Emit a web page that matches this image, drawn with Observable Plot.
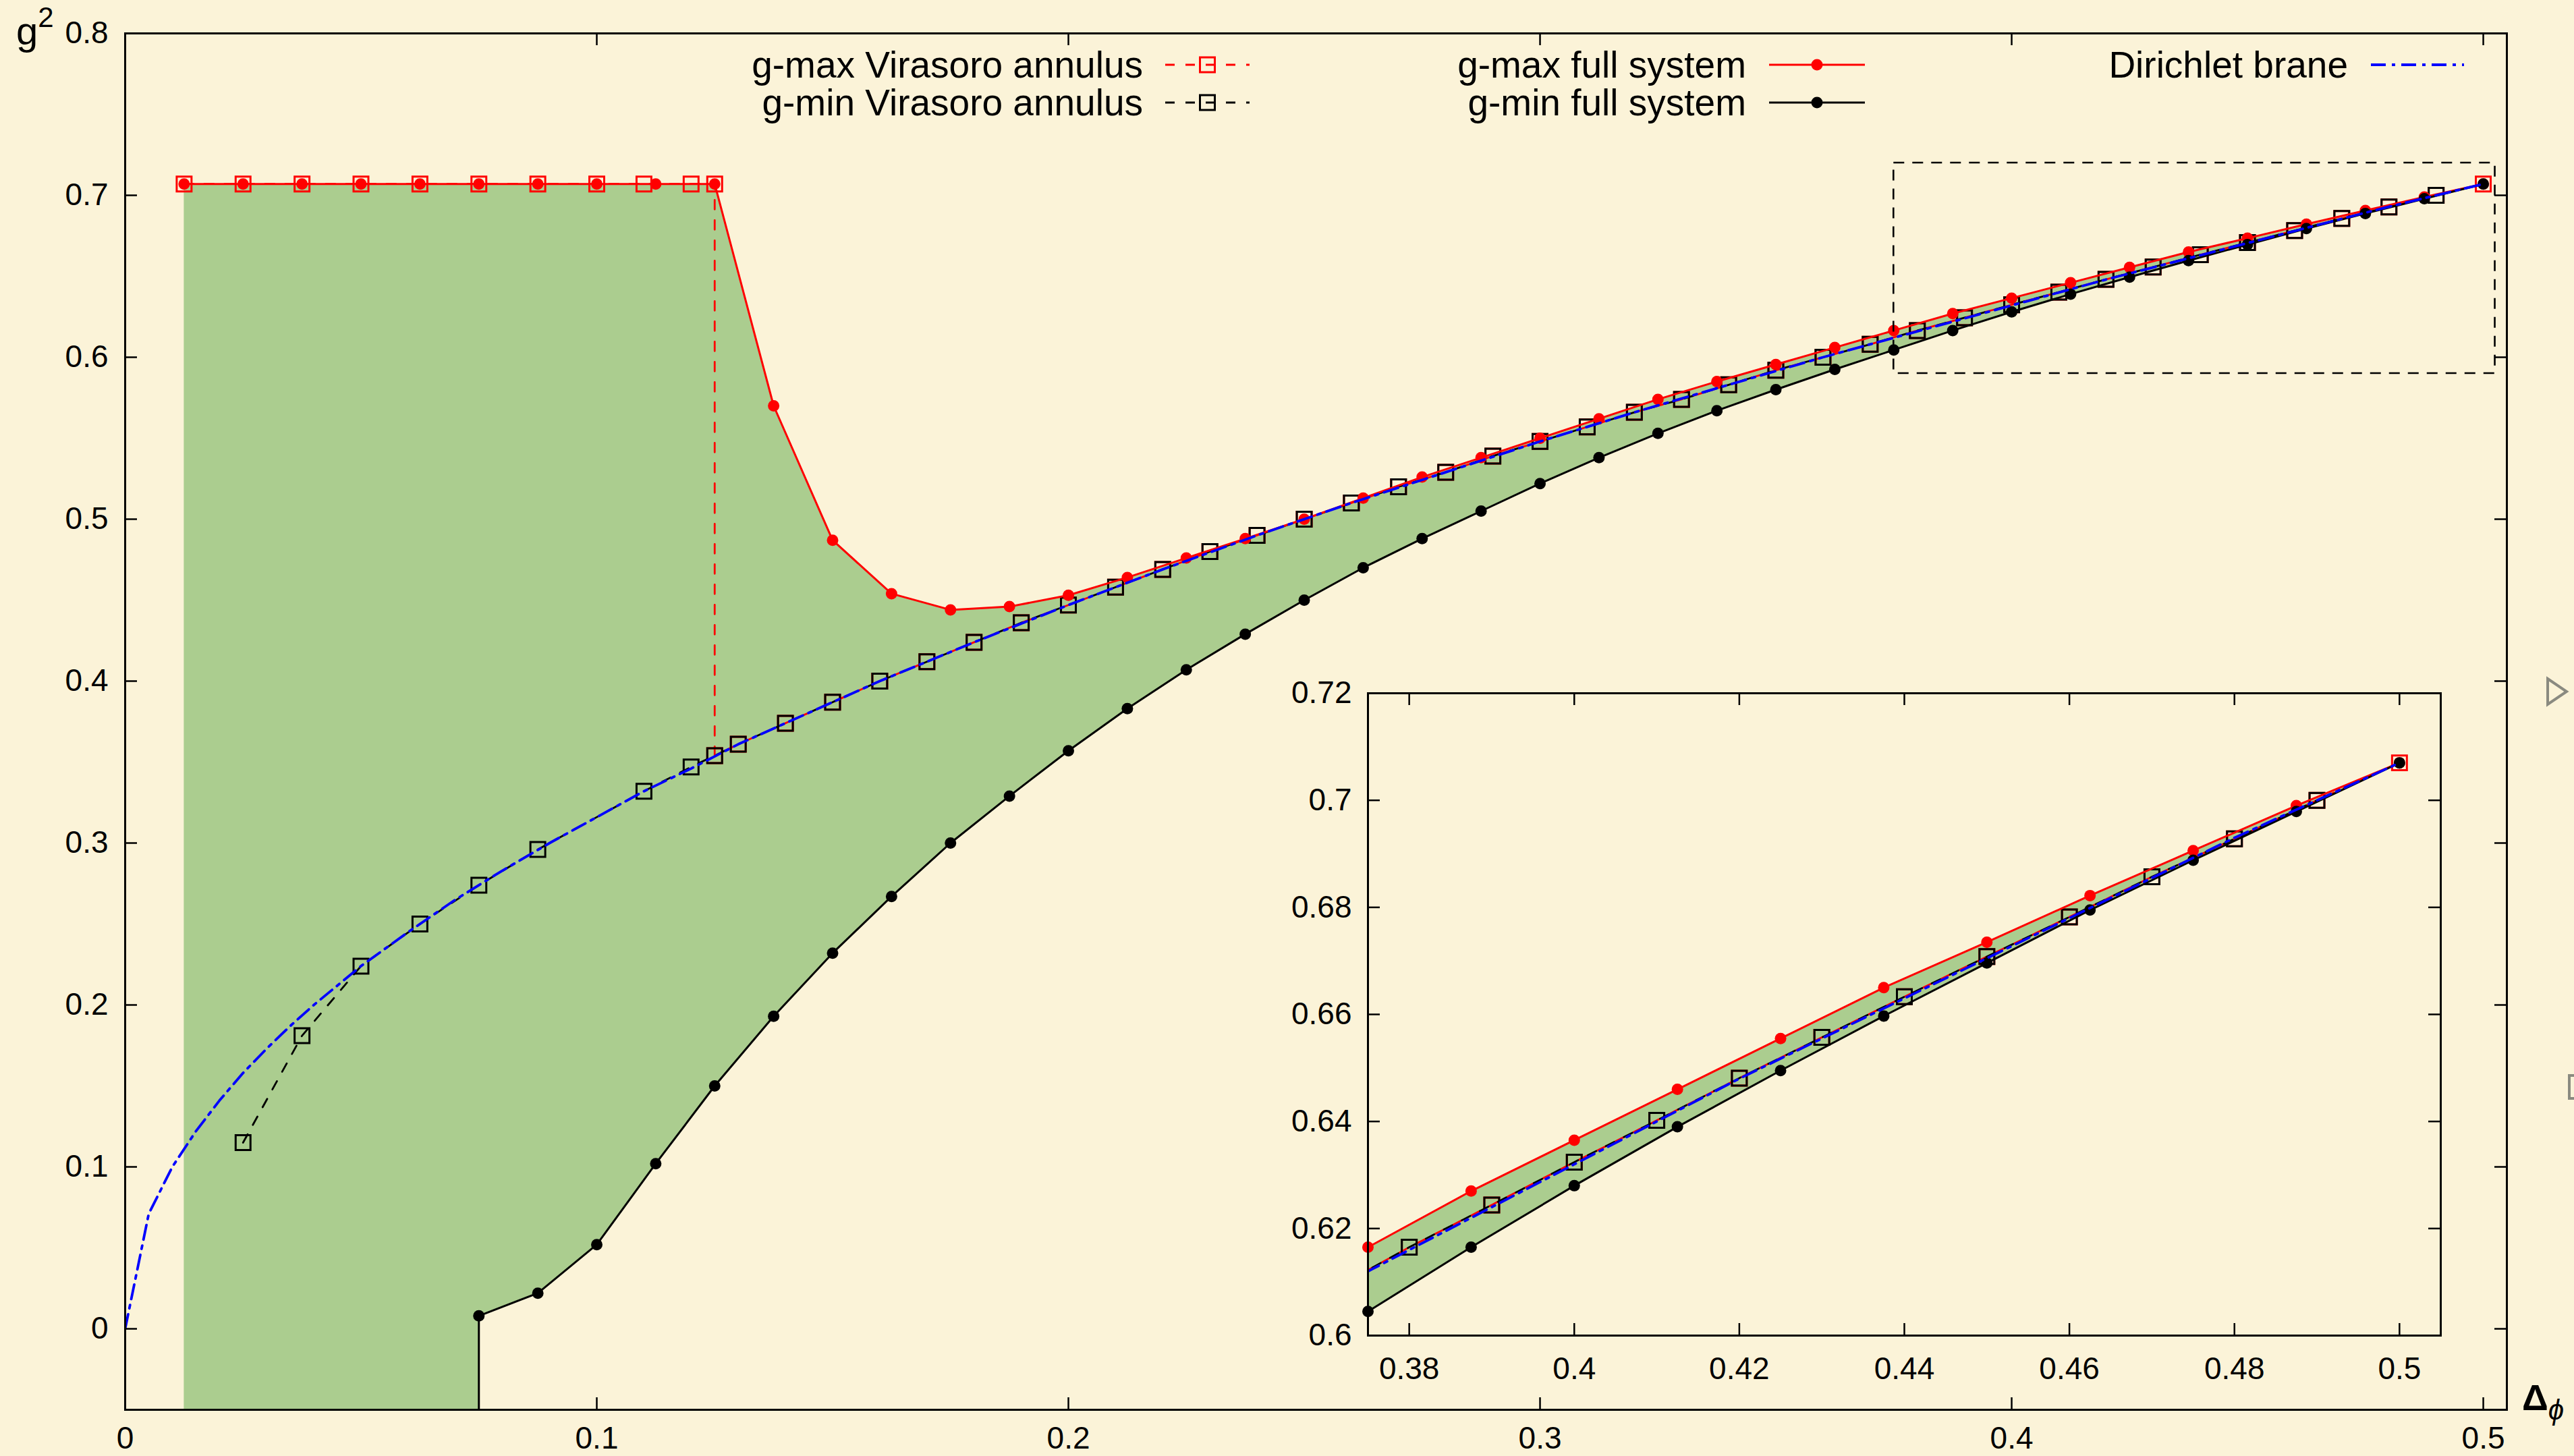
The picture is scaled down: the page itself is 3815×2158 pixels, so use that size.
<!DOCTYPE html>
<html><head><meta charset="utf-8">
<script src="https://cdn.jsdelivr.net/npm/d3@7"></script>
<script src="https://cdn.jsdelivr.net/npm/@observablehq/plot@0.6"></script>
<style>
html,body{margin:0;padding:0;background:#fbf3d8;}
#wrap{position:relative;width:3815px;height:2158px;overflow:hidden;background:#fbf3d8;}
#wrap svg{position:absolute;left:0;top:0;}
</style></head><body><div id="wrap"></div>
<script>
// ---------------- data ----------------
const xFull = [0.0125,0.025,0.0375,0.05,0.0625,0.075,0.0875,0.1,0.1125,0.125,0.1375,0.15,0.1625,0.175,0.1875,0.2,0.2125,0.225,0.2375,0.25,0.2625,0.275,0.2875,0.3,0.3125,0.325,0.3375,0.35,0.3625,0.375,0.3875,0.4,0.4125,0.425,0.4375,0.45,0.4625,0.475,0.4875,0.5];
const gmaxFull = [0.707,0.707,0.707,0.707,0.707,0.707,0.707,0.707,0.707,0.707,0.570,0.487,0.454,0.444,0.446,0.453,0.464,0.476,0.488,0.500,0.513,0.526,0.538,0.550,0.562,0.574,0.585,0.5955,0.606,0.6165,0.627,0.6365,0.646,0.6555,0.665,0.6735,0.6822,0.6906,0.699,0.707];
// null = below the plotted range
const gminFull = [null,null,null,null,null,0.008,0.022,0.052,0.102,0.150,0.193,0.232,0.267,0.300,0.329,0.357,0.383,0.407,0.429,0.450,0.470,0.488,0.505,0.522,0.538,0.553,0.567,0.580,0.5925,0.6045,0.6165,0.628,0.639,0.6495,0.6597,0.6696,0.6795,0.6888,0.6979,0.707];

const xVirMax = [0.0125,0.025,0.0375,0.05,0.0625,0.075,0.0875,0.1,0.11,0.12,0.125,0.125,0.13,0.14,0.15,0.16,0.17,0.18,0.19,0.2,0.21,0.22,0.23,0.24,0.25,0.26,0.27,0.28,0.29,0.3,0.31,0.32,0.33,0.34,0.35,0.36,0.37,0.38,0.39,0.4,0.41,0.42,0.43,0.44,0.45,0.46,0.47,0.48,0.49,0.5];
const gmaxVir = [0.707,0.707,0.707,0.707,0.707,0.707,0.707,0.707,0.707,0.707,0.707,0.354,0.361,0.374,0.387,0.4,0.412,0.424,0.436,0.447,0.458,0.469,0.48,0.49,0.5,0.51,0.52,0.529,0.539,0.548,0.557,0.566,0.574,0.583,0.592,0.6,0.608,0.6165,0.6244,0.6324,0.6402,0.6481,0.6557,0.6633,0.6708,0.6782,0.6857,0.6928,0.70,0.707];

const xVirMin = [0.025,0.0375,0.05,0.0625,0.075,0.0875,0.11,0.12,0.125,0.13,0.14,0.15,0.16,0.17,0.18,0.19,0.2,0.21,0.22,0.23,0.24,0.25,0.26,0.27,0.28,0.29,0.3,0.31,0.32,0.33,0.34,0.35,0.36,0.37,0.38,0.39,0.4,0.41,0.42,0.43,0.44,0.45,0.46,0.47,0.48,0.49];
const gminVir = [0.115,0.181,0.224,0.25,0.274,0.296,0.332,0.347,0.354,0.361,0.374,0.387,0.4,0.412,0.424,0.436,0.447,0.458,0.469,0.48,0.49,0.5,0.51,0.52,0.529,0.539,0.548,0.557,0.566,0.574,0.583,0.592,0.6,0.608,0.6165,0.6244,0.6324,0.6402,0.6481,0.6557,0.6633,0.6708,0.6782,0.6857,0.6928,0.70];

const xDir = [0,0.005,0.01,0.015,0.02,0.025,0.03,0.035,0.04,0.05,0.06,0.07,0.08,0.09,0.1,0.11,0.12,0.13,0.14,0.15,0.16,0.18,0.2,0.22,0.24,0.26,0.28,0.3,0.32,0.34,0.36,0.38,0.4,0.42,0.44,0.46,0.48,0.5];
const gDir = [0,0.071,0.1,0.122,0.141,0.158,0.173,0.187,0.2,0.224,0.245,0.265,0.283,0.3,0.316,0.332,0.346,0.361,0.374,0.387,0.4,0.424,0.447,0.469,0.49,0.51,0.529,0.548,0.566,0.583,0.6,0.616,0.632,0.648,0.663,0.678,0.693,0.707];

const xTicksMain = [0,0.1,0.2,0.3,0.4,0.5];
const yTicksMain = [0,0.1,0.2,0.3,0.4,0.5,0.6,0.7,0.8];
const xTicksInset = [0.38,0.4,0.42,0.44,0.46,0.48,0.5];
const yTicksInset = [0.6,0.62,0.64,0.66,0.68,0.7,0.72];
const zoomBox = [{x1:0.375, x2:0.5025, y1:0.59, y2:0.72}];

const legendLabels = ["g-max Virasoro annulus","g-min Virasoro annulus","g-max full system","g-min full system","Dirichlet brane"];
const axisLabelY = "g", axisLabelYSup = "2", axisLabelX = "Δ", axisLabelXSub = "ϕ";

// ---------------- styling ----------------
const W = 3815, H = 2158;
const BG = "#fbf3d8", GREEN = "#abcd8f";
const FONT = "'Liberation Sans', Arial, Helvetica, sans-serif";
const TICKFONT = 46, LEGFONT = 55;
const DASH_VIR = "14,16", DASH_DIR = "22,9,5,9";

const rows = xFull.map((x,i)=>({x, hi:gmaxFull[i], lo:gminFull[i]}));
const virMax = xVirMax.map((x,i)=>({x, y:gmaxVir[i]}));
const virMin = xVirMin.map((x,i)=>({x, y:gminVir[i]}));
const dir = xDir.map((x,i)=>({x, y:gDir[i]}));

function build(cfg){
  const {m, xDom, yDom, xTicks, yTicks, padX, padY} = cfg;
  const floor = -0.05;
  const band = [];
  rows.forEach((d,i)=>{
    if (d.lo == null) band.push({x:d.x, lo:floor, hi:d.hi});
    else {
      if (i>0 && rows[i-1].lo == null) band.push({x:d.x, lo:floor, hi:d.hi});
      band.push({x:d.x, lo:d.lo, hi:d.hi});
    }
  });
  const minLine = [];
  rows.forEach((d,i)=>{
    if (d.lo == null) return;
    if (i>0 && rows[i-1].lo == null) minLine.push({x:d.x, y:floor});
    minLine.push({x:d.x, y:d.lo});
  });
  const maxLine = rows.map(d=>({x:d.x, y:d.hi}));
  const minDots = rows.filter(d=>d.lo!=null).map(d=>({x:d.x,y:d.lo}));
  const inDom = d => d.x>=xDom[0]-1e-9 && d.x<=xDom[1]+1e-9 && d.y>=yDom[0]-1e-9 && d.y<=yDom[1]+1e-9;
  const fw = W - m.left - m.right, fh = H - m.top - m.bottom;
  const sq = {symbol:"square", r:12.4, strokeWidth:3, fill:"none"};
  const marks = [
    Plot.areaY(band, {x:"x", y1:"lo", y2:"hi", fill:GREEN, curve:"linear", clip:true}),
    Plot.line(virMax, {x:"x", y:"y", stroke:"red", strokeWidth:2.8, strokeDasharray:DASH_VIR, clip:true}),
    Plot.dot(virMax.filter(inDom), {x:"x", y:"y", stroke:"red", ...sq}),
    Plot.line(virMin, {x:"x", y:"y", stroke:"black", strokeWidth:2.8, strokeDasharray:DASH_VIR, clip:true}),
    Plot.dot(virMin.filter(inDom), {x:"x", y:"y", stroke:"black", ...sq}),
    Plot.line(maxLine, {x:"x", y:"y", stroke:"red", strokeWidth:3, clip:true}),
    Plot.dot(maxLine.filter(inDom), {x:"x", y:"y", fill:"red", r:8.5}),
    Plot.line(minLine, {x:"x", y:"y", stroke:"black", strokeWidth:3, clip:true}),
    Plot.dot(minDots.filter(inDom), {x:"x", y:"y", fill:"black", r:8.5}),
    Plot.line(dir, {x:"x", y:"y", stroke:"#0000ff", strokeWidth:3.8, strokeDasharray:DASH_DIR, clip:true}),
  ];
  if (cfg.box) marks.push(Plot.rect(zoomBox, {x1:"x1", x2:"x2", y1:"y1", y2:"y2", fill:"none", stroke:"black", strokeWidth:2.6, strokeDasharray:"16,12"}));
  marks.push(
    Plot.tickY(yTicks, {y:d=>d, stroke:"black", strokeWidth:2.5, insetRight: fw-18}),
    Plot.tickY(yTicks, {y:d=>d, stroke:"black", strokeWidth:2.5, insetLeft: fw-18}),
    Plot.tickX(xTicks, {x:d=>d, stroke:"black", strokeWidth:2.5, insetTop: fh-18}),
    Plot.tickX(xTicks, {x:d=>d, stroke:"black", strokeWidth:2.5, insetBottom: fh-18}),
    Plot.axisY({ticks:yTicks, tickSize:0, tickPadding:padY, tickFormat:d=>String(d), fontSize:TICKFONT, label:null}),
    Plot.axisX({ticks:xTicks, tickSize:0, tickPadding:padX, tickFormat:d=>String(d), fontSize:TICKFONT, label:null}),
    Plot.frame({stroke:"black", strokeWidth:3})
  );
  return Plot.plot({
    width:W, height:H,
    marginLeft:m.left, marginRight:m.right, marginTop:m.top, marginBottom:m.bottom,
    x:{domain:xDom}, y:{domain:yDom},
    style:{background:"transparent", fontFamily:FONT, fontSize:TICKFONT+"px", color:"black", overflow:"visible"},
    marks
  });
}

const wrap = document.getElementById("wrap");
wrap.appendChild(build({m:{left:185,right:100,top:49,bottom:69}, xDom:[0,0.505], yDom:[-0.05,0.8], xTicks:xTicksMain, yTicks:yTicksMain, padX:25, padY:25, box:true}));
wrap.appendChild(build({m:{left:2027,right:198,top:1027,bottom:179}, xDom:[0.375,0.505], yDom:[0.6,0.72], xTicks:xTicksInset, yTicks:yTicksInset, padX:32, padY:24, box:false}));

// ---------------- legend + axis titles overlay ----------------
const ov = d3.create("svg").attr("width",W).attr("height",H).style("font-family",FONT);
const legendSpec = [
  {col:0,row:0,color:"red",dash:DASH_VIR,mark:"square",w:2.8},
  {col:0,row:1,color:"black",dash:DASH_VIR,mark:"square",w:2.8},
  {col:1,row:0,color:"red",dash:null,mark:"circle",w:3},
  {col:1,row:1,color:"black",dash:null,mark:"circle",w:3},
  {col:2,row:0,color:"#0000ff",dash:DASH_DIR,mark:null,w:3.8}
];
const colTextEnd = [1694, 2588, 3480];
const colSample = [[1727,1852],[2622,2764],[3514,3652]];
const rowY = [96, 152];
legendSpec.forEach((s,i)=>{
  const y = rowY[s.row];
  ov.append("text").attr("x",colTextEnd[s.col]).attr("y",y).attr("text-anchor","end")
    .attr("dominant-baseline","central").attr("font-size",LEGFONT).attr("fill","black").text(legendLabels[i]);
  const [a,b] = colSample[s.col];
  const ln = ov.append("line").attr("x1",a).attr("x2",b).attr("y1",y).attr("y2",y)
    .attr("stroke",s.color).attr("stroke-width",s.w);
  if (s.dash) ln.attr("stroke-dasharray",s.dash);
  const cx = (a+b)/2;
  if (s.mark==="square") ov.append("rect").attr("x",cx-11).attr("y",y-11).attr("width",22).attr("height",22)
    .attr("fill","none").attr("stroke",s.color).attr("stroke-width",3);
  if (s.mark==="circle") ov.append("circle").attr("cx",cx).attr("cy",y).attr("r",8.5).attr("fill",s.color);
});
const gt = ov.append("text").attr("x",24).attr("y",66).attr("font-size",58).attr("fill","black");
gt.append("tspan").text(axisLabelY);
gt.append("tspan").attr("font-size",42).attr("dy",-26).text(axisLabelYSup);
const dt = ov.append("text").attr("x",3738).attr("y",2090).attr("font-size",54).attr("font-weight","bold").attr("fill","black");
dt.append("tspan").text(axisLabelX);
dt.append("tspan").attr("font-size",42).attr("font-weight","normal").attr("font-style","italic").attr("dy",14).text(axisLabelXSub);
// window chrome glyphs at the right edge of the screenshot
ov.append("path").attr("d","M3776,1006 L3804,1025 L3776,1044 Z").attr("fill","none").attr("stroke","#8a8a80").attr("stroke-width",4);
ov.append("path").attr("d","M3815,1594 L3808,1594 L3808,1628 L3815,1628").attr("fill","none").attr("stroke","#8a8a80").attr("stroke-width",4);
wrap.appendChild(ov.node());
</script></body></html>
